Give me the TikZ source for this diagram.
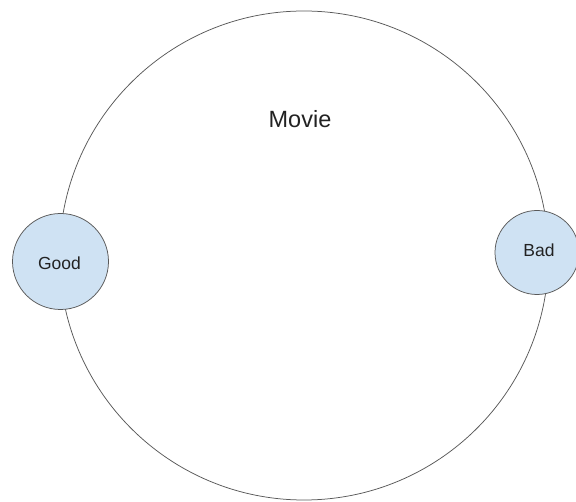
\documentclass[tikz,border=0pt]{standalone}
\usepackage{fontspec}
\setmainfont{Liberation Sans}
\definecolor{fillblue}{HTML}{CFE2F3}
\definecolor{linegray}{HTML}{595959}
\definecolor{textgray}{HTML}{222222}
\tikzset{
  bigring/.style={circle, draw=linegray, line width=0.75pt, fill=white, inner sep=0pt},
  smallring/.style={circle, draw=linegray, line width=0.75pt, fill=fillblue, inner sep=0pt},
  smalltext/.style={text=textgray, font=\fontsize{17.5}{20}\selectfont, anchor=base, inner sep=0pt},
  title/.style={text=textgray, font=\fontsize{23.5}{27}\selectfont, anchor=base, inner sep=0pt}
}
\begin{document}
\begin{tikzpicture}[x=1pt,y=-1pt]
\useasboundingbox (0,0) rectangle (576,502);
\node[bigring, minimum size=489pt] (movie) at (304,255.5) {};
\node[title] (movielabel) at (300,128) {Movie};
\node[smallring, minimum size=96pt] (good) at (60.5,261.5) {};
\node[smalltext] (goodlabel) at (59.5,269.5) {Good};
\node[smallring, minimum size=84pt] (bad) at (537,252.5) {};
\node[smalltext] (badlabel) at (539,257) {Bad};
\end{tikzpicture}
\end{document}
